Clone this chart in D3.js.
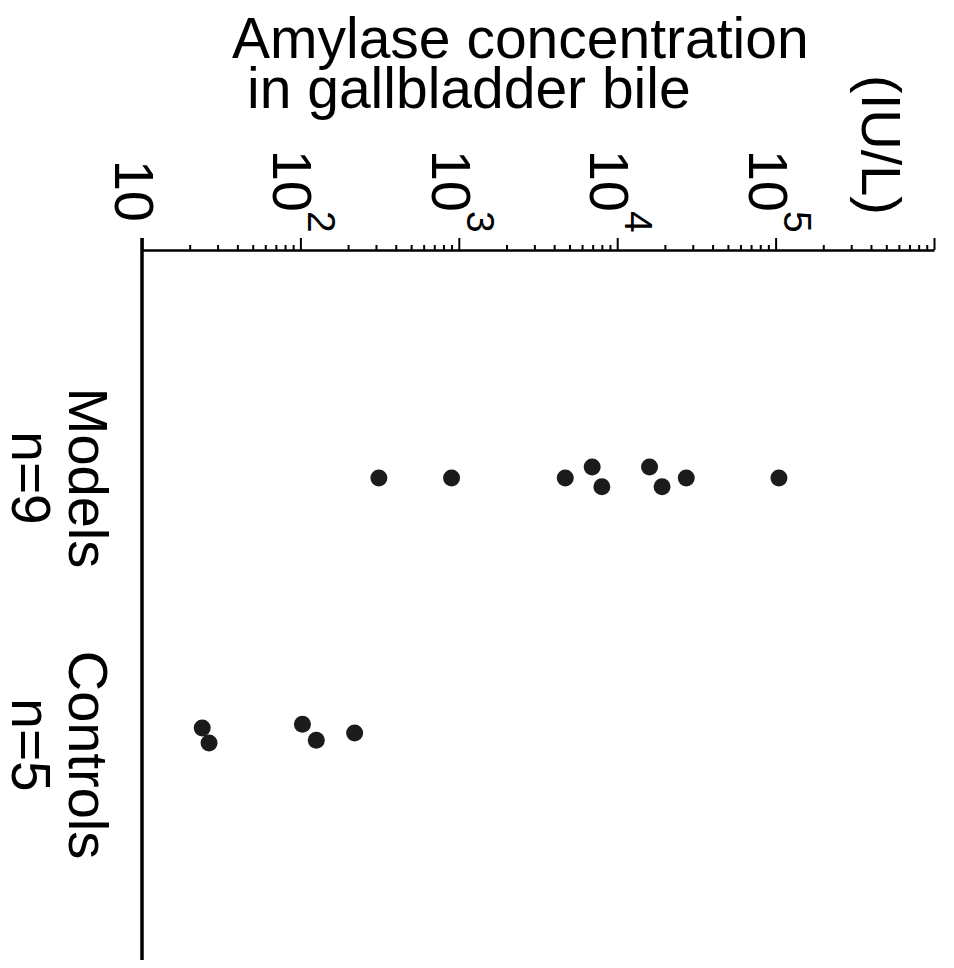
<!DOCTYPE html>
<html>
<head>
<meta charset="utf-8">
<script src="https://cdn.jsdelivr.net/npm/d3@7"></script>
<style>
  body { margin: 0; background: #fff; }
  svg text { font-family: "Liberation Sans", Arial, Helvetica, sans-serif; fill: #000; }
</style>
</head>
<body>
<svg id="chart" width="954" height="968"></svg>
<script>
// groups shown along the vertical (category) axis
const groups = ["Models", "Controls"];
const groupCounts = ["n=9", "n=5"];

// amylase values, IU/L
const modelValues = [313, 900, 4700, 6950, 8000, 16000, 19200, 27300, 105000];
const controlValues = [24, 26.5, 103, 126, 220];

// small vertical jitter lanes so overlapping dots stay visible
const modelLanes = [0, 0, 0, -1, 0.8, -1, 0.8, 0, 0];
const controlLanes = [-0.45, 0.9, -0.8, 0.65, 0];

// decade exponents that get a label
const decadeExponents = [1, 2, 3, 4, 5];

const svg = d3.select("#chart");

// value axis runs left -> right along the top
const x = d3.scaleLog().domain([10, 1e6]).range([142, 934]);
const axisY = 250;

// group positions down the page
const yGroup = d3.scalePoint().domain(groups).range([478, 733]);
const jitter = d3.scaleLinear().domain([-1, 1]).range([-11, 11]);

// title
const title = svg.append("text").style("font-size", "57px");
title.append("tspan").attr("x", 232).attr("y", 58).text("Amylase concentration");
title.append("tspan").attr("x", 247).attr("y", 108).text("in gallbladder bile");

// units, turned with the axis
svg.append("text")
  .attr("transform", "translate(862,75) rotate(90)")
  .style("font-size", "56px")
  .text("(IU/L)");

// log axis: minor ticks short, decades long
const axisG = svg.append("g")
  .attr("transform", `translate(0,${axisY})`)
  .call(d3.axisTop(x).tickValues(x.ticks()).tickSize(5).tickSizeOuter(0).tickFormat(""));

axisG.select(".domain").attr("stroke", "#000").attr("stroke-width", 2.5);
axisG.selectAll(".tick line")
  .attr("stroke", "#000")
  .attr("stroke-width", 2)
  .filter(d => Math.abs(Math.log10(d) - Math.round(Math.log10(d))) < 1e-9)
  .attr("y2", -12);

// decade labels, rotated 90 degrees like the rest of the figure
const labels = svg.append("g").selectAll("g")
  .data(decadeExponents)
  .join("g");

labels.append("text")
  .attr("transform", d => `translate(${x(Math.pow(10, d)) - 27},${d === 1 ? 222 : 212}) rotate(90)`)
  .attr("text-anchor", "end")
  .style("font-size", "56px")
  .text("10");

labels.filter(d => d > 1).append("text")
  .attr("transform", d => `translate(${x(Math.pow(10, d)) + 8},${211}) rotate(90)`)
  .style("font-size", "39px")
  .text(d => d);

// category axis line
svg.append("line")
  .attr("x1", 142).attr("x2", 142)
  .attr("y1", axisY - 12).attr("y2", 960)
  .attr("stroke", "#000")
  .attr("stroke-width", 3.5);

// group labels
const groupLabels = svg.append("g").selectAll("g")
  .data(groups)
  .join("g");

groupLabels.append("text")
  .attr("transform", (d, i) => `translate(69,${yGroup(d) + (i === 1 ? 22 : 0)}) rotate(90)`)
  .attr("text-anchor", "middle")
  .style("font-size", "56px")
  .text(d => d);

groupLabels.append("text")
  .attr("transform", (d, i) => `translate(12,${yGroup(d) + (i === 1 ? 12 : 0)}) rotate(90)`)
  .attr("text-anchor", "middle")
  .style("font-size", "55px")
  .text((d, i) => groupCounts[i]);

// dots
const points = [
  ...modelValues.map((v, i) => ({ group: "Models", value: v, lane: modelLanes[i] })),
  ...controlValues.map((v, i) => ({ group: "Controls", value: v, lane: controlLanes[i] }))
];

svg.append("g").selectAll("circle")
  .data(points)
  .join("circle")
  .attr("cx", d => x(d.value))
  .attr("cy", d => yGroup(d.group) + jitter(d.lane))
  .attr("r", 8.5)
  .attr("fill", "#1b1b1b");
</script>
</body>
</html>
